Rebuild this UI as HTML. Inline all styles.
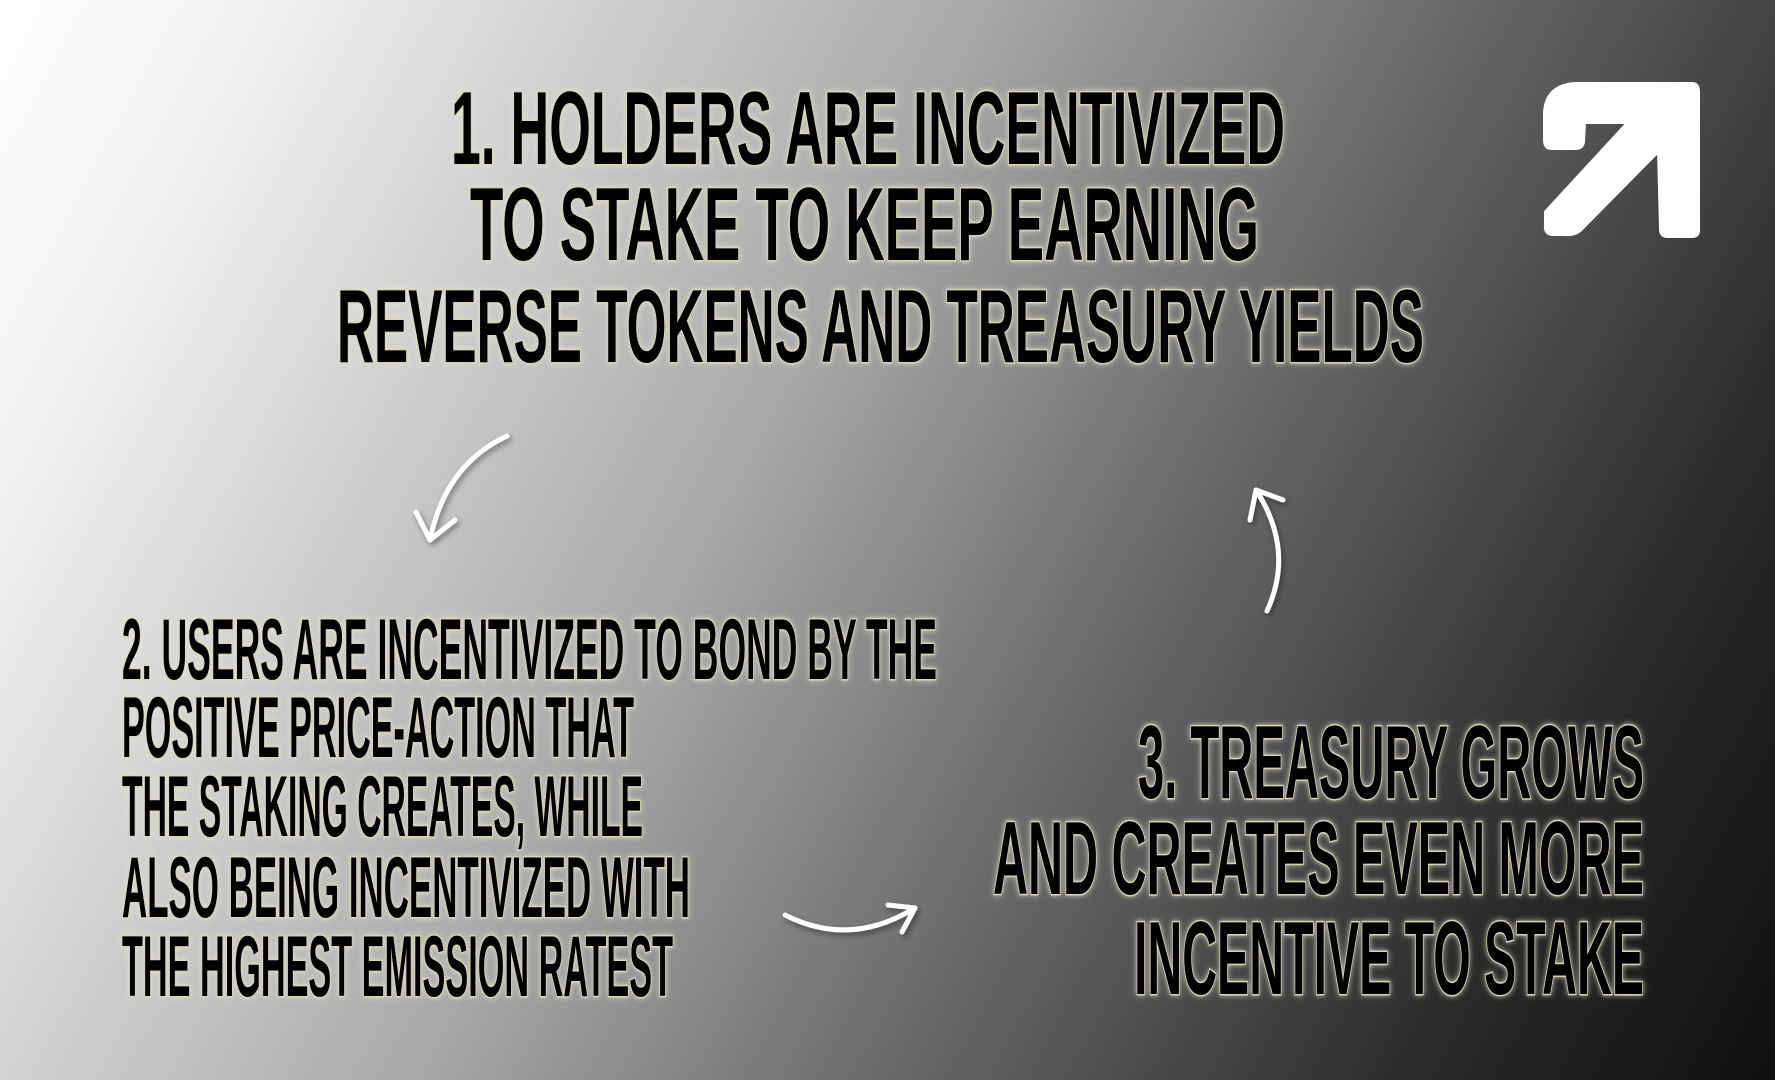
<!DOCTYPE html>
<html><head><meta charset="utf-8"><style>
html,body{margin:0;padding:0}
body{width:1775px;height:1080px;overflow:hidden;background:linear-gradient(118deg,#ffffff 0%,#f0f0f0 12%,#a8a8a8 42%,#6a6a6a 62%,#2a2a2a 85%,#101010 100%)}
svg{position:absolute;left:0;top:0}
text{font-family:"Liberation Sans Narrow","Liberation Sans",sans-serif;font-weight:bold;fill:#000;stroke:#d8d4b8;stroke-width:3;paint-order:stroke;filter:url(#glow)}
</style></head><body>
<svg width="1775" height="1080" viewBox="0 0 1775 1080">
<defs><filter id="glow" x="-5%" y="-20%" width="110%" height="140%"><feGaussianBlur in="SourceAlpha" stdDeviation="3" result="b"/><feFlood flood-color="#e8e4c8" flood-opacity="0.8"/><feComposite in2="b" operator="in" result="g"/><feMerge><feMergeNode in="g"/><feMergeNode in="SourceGraphic"/></feMerge></filter>
<filter id="ash"><feDropShadow dx="2" dy="3" stdDeviation="3" flood-color="#000" flood-opacity="0.4"/></filter></defs>
<g font-size="104">
<text x="451" y="164" textLength="834" lengthAdjust="spacingAndGlyphs">1. HOLDERS ARE INCENTIVIZED</text>
<text x="470" y="260" textLength="789" lengthAdjust="spacingAndGlyphs">TO STAKE TO KEEP EARNING</text>
<text x="337" y="362" textLength="1087" lengthAdjust="spacingAndGlyphs">REVERSE TOKENS AND TREASURY YIELDS</text>
</g>
<g font-size="86">
<text x="122" y="679" textLength="815" lengthAdjust="spacingAndGlyphs">2. USERS ARE INCENTIVIZED TO BOND BY THE</text>
<text x="122" y="757" textLength="512" lengthAdjust="spacingAndGlyphs">POSITIVE PRICE-ACTION THAT</text>
<text x="122" y="836" textLength="521" lengthAdjust="spacingAndGlyphs">THE STAKING CREATES, WHILE</text>
<text x="122" y="917" textLength="568" lengthAdjust="spacingAndGlyphs">ALSO BEING INCENTIVIZED WITH</text>
<text x="122" y="996" textLength="551" lengthAdjust="spacingAndGlyphs">THE HIGHEST EMISSION RATEST</text>
</g>
<g font-size="104">
<text x="1138" y="798" textLength="506" lengthAdjust="spacingAndGlyphs">3. TREASURY GROWS</text>
<text x="993" y="894" textLength="651" lengthAdjust="spacingAndGlyphs">AND CREATES EVEN MORE</text>
<text x="1134" y="994" textLength="510" lengthAdjust="spacingAndGlyphs">INCENTIVE TO STAKE</text>
</g>
<g fill="none" stroke="#fff" stroke-width="5" stroke-linecap="round" stroke-linejoin="round" filter="url(#ash)">
<g><path d="M507,436 Q445,465 430,540"/><path d="M416,512 L430,540 L455,520"/></g>
<g><path d="M1267,611 Q1295,550 1256,490"/><path d="M1250,520 L1256,490 L1283,500"/></g>
<g><path d="M785,915 Q850,948 915,908"/><path d="M888,905 L915,908 L902,932"/></g>
</g>
<path fill="#fff" stroke="#fff" stroke-width="4" stroke-linejoin="round" d="M1575,84 L1692,84 Q1698,84 1698,92 L1698,230 Q1698,236 1692,236 L1668,236 Q1661,236 1661,229 L1659,150 L1580,230 Q1574,235 1565,234 L1552,234 Q1545,233 1546,225 L1546,212 L1629,122 L1584,122 L1583,142 Q1582,148 1575,148 L1552,148 Q1545,148 1545,140 L1545,112 Q1547,86 1575,84 Z"/>
</svg>
</body></html>
